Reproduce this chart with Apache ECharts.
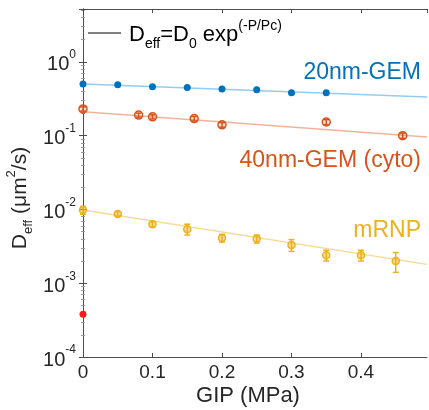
<!DOCTYPE html>
<html><head><meta charset="utf-8">
<script src="https://cdn.jsdelivr.net/npm/echarts@6/dist/echarts.min.js"></script>
<style>html,body{margin:0;padding:0;background:#fff}#c{width:429px;height:410px}</style>
</head><body><div id="c"></div>
<script>
// ---- data ----
var xTicks = [0, 0.1, 0.2, 0.3, 0.4];
var gem20X = [0, 0.05, 0.1, 0.15, 0.2, 0.25, 0.3, 0.35];
var gem20Y = [0.50, 0.49, 0.46, 0.45, 0.43, 0.42, 0.38, 0.38];
var gem40X = [0, 0.08, 0.1, 0.16, 0.2, 0.35, 0.46];
var gem40Y = [0.23, 0.19, 0.18, 0.17, 0.14, 0.153, 0.10];
var gem40Err = [0.015, 0.012, 0.012, 0.012, 0.01, 0.012, 0.008];
var mrnpX = [0, 0.05, 0.1, 0.15, 0.2, 0.25, 0.3, 0.35, 0.4, 0.45];
var mrnpY = [0.0098, 0.0087, 0.0063, 0.0054, 0.0041, 0.0040, 0.0033, 0.0024, 0.0024, 0.0020];
var mrnpErr = [0.0012, 0.0006, 0.0005, 0.0009, 0.0005, 0.0005, 0.0006, 0.0004, 0.0004, 0.0006];
var redX = [0];
var redY = [0.00038];
var fitX = [0, 0.495];
var fit20 = [0.50, 0.335];
var fit40 = [0.21, 0.096];
var fitMrnp = [0.0098, 0.0018];

var C_BLUE = '#0072BD', C_ORANGE = '#D95319', C_YEL = '#EDB120';
var AX = '#4d4d4d';
var TXT = '#262626';
var FONT = 'Liberation Sans, Arial, Helvetica, sans-serif';

function pairs(xs, ys) { return xs.map(function (x, i) { return [x, ys[i]]; }); }
function errData(xs, ys, es) { return xs.map(function (x, i) { return [x, ys[i] - es[i], ys[i] + es[i]]; }); }

function errSeries(data, color) {
  return {
    type: 'custom', z: 3, silent: true,
    renderItem: function (params, api) {
      var lo = api.coord([api.value(0), api.value(1)]);
      var hi = api.coord([api.value(0), api.value(2)]);
      var w = 3;
      var st = { stroke: color, lineWidth: 1.5 };
      return { type: 'group', children: [
        { type: 'line', shape: { x1: lo[0], y1: lo[1], x2: hi[0], y2: hi[1] }, style: st },
        { type: 'line', shape: { x1: lo[0] - w, y1: lo[1], x2: lo[0] + w, y2: lo[1] }, style: st },
        { type: 'line', shape: { x1: hi[0] - w, y1: hi[1], x2: hi[0] + w, y2: hi[1] }, style: st }
      ]};
    },
    data: data
  };
}

function fitSeries(ys, color) {
  return { type: 'line', data: pairs(fitX, ys), symbol: 'none', z: 1,
    lineStyle: { color: color, width: 1.5, opacity: 0.6 } };
}

var yLabelRich = {
  b: { fontSize: 20, fontFamily: FONT, color: TXT, lineHeight: 26, verticalAlign: 'bottom' },
  s: { fontSize: 12, fontFamily: FONT, color: TXT, lineHeight: 26, verticalAlign: 'top' }
};

var chart = echarts.init(document.getElementById('c'));
chart.setOption({
  animation: false,
  grid: { left: 83, right: 2, top: 9, bottom: 53 },
  xAxis: [{
    type: 'value', min: 0, max: 0.495, interval: 0.1,
    axisLine: { lineStyle: { color: AX, width: 1 } },
    axisTick: { inside: true, length: 4, lineStyle: { color: AX } },
    axisLabel: { fontSize: 19, fontFamily: FONT, color: TXT, margin: 6, showMaxLabel: false,
      formatter: function (v) { var r = Math.round(v * 10) / 10; return xTicks.indexOf(r) >= 0 ? String(r) : ''; } },
    splitLine: { show: false }
  }, {
    type: 'value', position: 'top', min: 0, max: 0.495, interval: 0.1,
    axisLine: { show: true, lineStyle: { color: AX } },
    axisTick: { inside: true, length: 4, lineStyle: { color: AX } },
    axisLabel: { show: false }, splitLine: { show: false }
  }],
  yAxis: [{
    type: 'log', logBase: 10, min: 0.0001, max: 5.2,
    axisLine: { show: true, lineStyle: { color: AX } },
    axisTick: { inside: true, length: 4, lineStyle: { color: AX } },
    minorTick: { show: true, splitNumber: 9, length: 2, lineStyle: { color: '#999' } },
    axisLabel: { margin: 7, rich: yLabelRich,
      formatter: function (v) { var e = Math.round(Math.log10(v)); if (Math.abs(Math.log10(v) - e) > 1e-6) return ''; return '{b|10}{s|' + e + '}'; } },
    splitLine: { show: false }
  }, {
    type: 'log', logBase: 10, min: 0.0001, max: 5.2, position: 'right',
    axisLine: { show: true, lineStyle: { color: AX } },
    axisTick: { inside: true, length: 4, lineStyle: { color: AX } },
    minorTick: { show: true, splitNumber: 9, length: 2, lineStyle: { color: '#999' } },
    axisLabel: { show: false }, splitLine: { show: false }
  }],
  series: [
    fitSeries(fit20, '#4DA8E8'),
    fitSeries(fit40, '#E8805A'),
    fitSeries(fitMrnp, '#F2C24E'),
    { type: 'scatter', data: pairs(gem20X, gem20Y), symbol: 'circle', symbolSize: 7, z: 4,
      itemStyle: { color: C_BLUE, opacity: 1 } },
    errSeries(errData(gem40X, gem40Y, gem40Err), C_ORANGE),
    { type: 'scatter', data: pairs(gem40X, gem40Y), symbol: 'circle', symbolSize: 8, z: 4,
      itemStyle: { color: 'rgba(217,83,25,0.15)', borderColor: C_ORANGE, borderWidth: 1.5, opacity: 1 } },
    errSeries(errData(mrnpX, mrnpY, mrnpErr), C_YEL),
    { type: 'scatter', data: pairs(mrnpX, mrnpY), symbol: 'circle', symbolSize: 7, z: 4,
      itemStyle: { color: 'rgba(237,177,32,0.45)', borderColor: C_YEL, borderWidth: 1.5, opacity: 1 } },
    { type: 'scatter', data: pairs(redX, redY), symbol: 'circle', symbolSize: 7, z: 5,
      itemStyle: { color: '#FF1A1A', opacity: 1 } }
  ],
  graphic: [
    { type: 'line', shape: { x1: 88, y1: 33, x2: 121, y2: 33 }, style: { stroke: '#000', lineWidth: 1.2 } },
    { type: 'text', x: 129, y: 35, style: {
      text: '{a|D}{sub|eff}{a|=D}{sub|0}{a| exp}{sup|(-P/Pc)}', verticalAlign: 'middle',
      rich: {
        a: { fontSize: 22, fontFamily: FONT, fill: '#000', lineHeight: 32, verticalAlign: 'middle' },
        sub: { fontSize: 14, fontFamily: FONT, fill: '#000', lineHeight: 32, verticalAlign: 'bottom' },
        sup: { fontSize: 14, fontFamily: FONT, fill: '#000', lineHeight: 32, verticalAlign: 'top' }
      } } },
    { type: 'text', x: 421, y: 73, style: { text: '20nm-GEM', align: 'right', verticalAlign: 'middle', fontSize: 23, fontFamily: FONT, fill: C_BLUE } },
    { type: 'text', x: 421, y: 161, style: { text: '40nm-GEM (cyto)', align: 'right', verticalAlign: 'middle', fontSize: 23, fontFamily: FONT, fill: C_ORANGE } },
    { type: 'text', x: 421, y: 231, style: { text: 'mRNP', align: 'right', verticalAlign: 'middle', fontSize: 23, fontFamily: FONT, fill: C_YEL } },
    { type: 'text', x: 248, y: 396, style: { text: 'GIP (MPa)', align: 'center', verticalAlign: 'middle', fontSize: 22, fontFamily: FONT, fill: TXT } },
    { type: 'text', x: 20, y: 198, rotation: Math.PI / 2, style: {
      text: '{a|D}{sub|eff}{a| (μm}{sup|2}{a|/s)}', align: 'center', verticalAlign: 'middle',
      rich: {
        a: { fontSize: 21, fontFamily: FONT, fill: TXT, lineHeight: 30, verticalAlign: 'middle' },
        sub: { fontSize: 13, fontFamily: FONT, fill: TXT, lineHeight: 30, verticalAlign: 'bottom' },
        sup: { fontSize: 13, fontFamily: FONT, fill: TXT, lineHeight: 30, verticalAlign: 'top' }
      } } }
  ]
});
</script></body></html>
